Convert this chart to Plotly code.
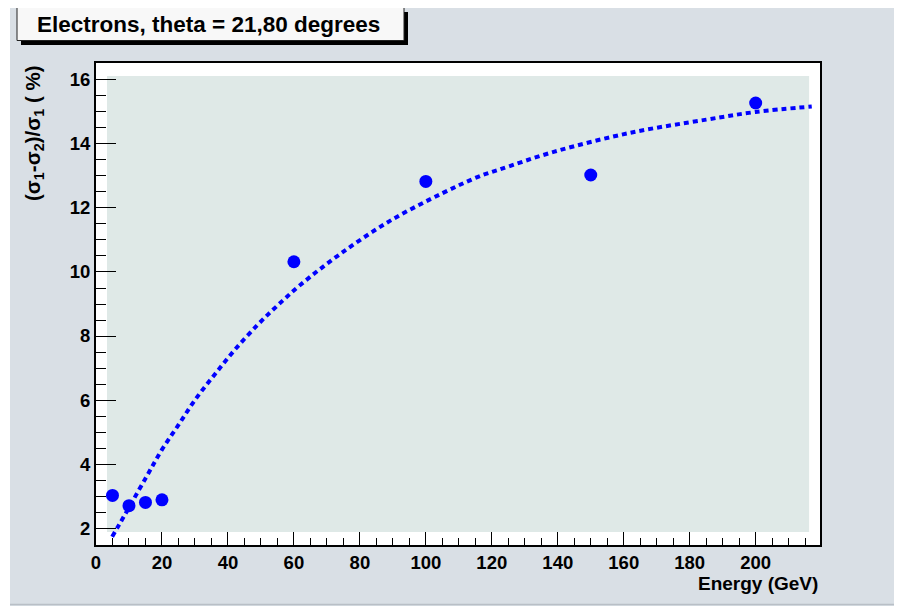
import plotly.graph_objects as go

# Data points (Energy in GeV, relative resolution difference in %)
energy = [5, 10, 15, 20, 60, 100, 150, 200]
resol_diff = [3.02, 2.70, 2.80, 2.88, 10.32, 12.83, 13.03, 15.28]

# Fit curve
fit_energy = [4.9, 7, 15, 20, 25, 30, 36, 42, 49, 55, 62, 74, 89, 105, 116, 122, 139, 162, 185, 200, 217]
fit_values = [1.73, 2.10, 3.55, 4.45, 5.22, 6.00, 6.80, 7.56, 8.35, 8.95, 9.60, 10.56, 11.59, 12.46, 12.98, 13.19, 13.76, 14.35, 14.76, 15.00, 15.17]

title_text = "Electrons, theta = 21,80 degrees"
x_title = "Energy (GeV)"
y_title = "(σ<sub>1</sub>-σ<sub>2</sub>)/σ<sub>1</sub> ( %)"

OFF = 8  # page body margin
W, H = 910, 598
L, R, T, B = 88, 98, 55, 61
PW, PH = W - L - R, H - T - B


def px(x_img):
    return (x_img - OFF - L) / PW


def py(y_img):
    return (H - B - (y_img - OFF)) / PH


FONT = "Liberation Sans"
BLUE = "#0000ff"

fig = go.Figure()
fig.add_trace(go.Scatter(
    x=fit_energy, y=fit_values, mode="lines",
    line=dict(color=BLUE, width=4, dash="5px,4px", shape="spline"),
    hoverinfo="skip", showlegend=False))
fig.add_trace(go.Scatter(
    x=energy, y=resol_diff, mode="markers",
    marker=dict(color=BLUE, size=13, symbol="circle"),
    showlegend=False))

shapes = [
    # thin white strip at the canvas' left edge
    dict(type="rect", xref="paper", yref="paper", x0=px(OFF), x1=px(10), y0=py(OFF + H), y1=py(OFF),
         fillcolor="white", line_width=0, layer="below"),
    dict(type="line", xref="paper", yref="paper", x0=px(10), x1=px(OFF + W), y0=py(604.5), y1=py(604.5),
         line=dict(color="#b9bfc6", width=1.5), layer="below"),
    # inner shaded frame area
    dict(type="rect", xref="x", yref="y", x0=3.33, x1=216.2, y0=1.875, y1=16.125,
         fillcolor="#dfe9e7", line_width=0, layer="below"),
    # title box shadow and box
    dict(type="rect", xref="paper", yref="paper", x0=px(21), x1=px(408), y0=py(45), y1=py(12),
         fillcolor="black", line_width=0, layer="above"),
    dict(type="rect", xref="paper", yref="paper", x0=px(17), x1=px(404), y0=py(40.5), y1=py(7.5),
         fillcolor="#f8f8f8", line=dict(color="#222222", width=1), layer="above"),
]

annotations = [
    dict(text=title_text, xref="paper", yref="paper", x=px(208), y=py(24),
         xanchor="center", yanchor="middle", showarrow=False,
         font=dict(family=FONT, size=22.5, color="black", weight="bold")),
    dict(text=x_title, xref="paper", yref="paper", x=px(820), y=py(583),
         xanchor="right", yanchor="middle", showarrow=False,
         font=dict(family=FONT, size=19, color="black", weight="bold")),
    dict(text=y_title, xref="paper", yref="paper", x=px(34), y=py(133),
         xanchor="center", yanchor="middle", showarrow=False, textangle=-90,
         font=dict(family=FONT, size=20.5, color="black", weight="bold")),
]

fig.update_layout(
    width=W, height=H,
    margin=dict(l=L, r=R, t=T, b=B, pad=0),
    paper_bgcolor="#d9dfe5",
    plot_bgcolor="white",
    shapes=shapes,
    annotations=annotations,
    showlegend=False,
    xaxis=dict(range=[0, 219.5], tick0=0, dtick=20, ticks="inside", ticklen=13,
               tickwidth=1.2, tickcolor="black",
               minor=dict(ticks="inside", dtick=5, tick0=0, ticklen=7, tickwidth=1.2, tickcolor="black"),
               showline=True, linecolor="black", linewidth=2, mirror=True,
               showgrid=False, zeroline=False,
               tickfont=dict(family=FONT, size=18.5, color="black", weight="bold")),
    yaxis=dict(range=[1.47, 16.53], tick0=0, dtick=2, ticks="inside", ticklen=20,
               tickwidth=1.2, tickcolor="black",
               minor=dict(ticks="inside", dtick=0.5, tick0=0, ticklen=10, tickwidth=1.2, tickcolor="black"),
               showline=True, linecolor="black", linewidth=2, mirror=True,
               showgrid=False, zeroline=False,
               tickfont=dict(family=FONT, size=18.5, color="black", weight="bold")),
)

fig.write_html(
    "out.html",
    config={"displayModeBar": False},
    post_script="document.documentElement.style.overflow='hidden';document.body.style.overflow='hidden';",
)
